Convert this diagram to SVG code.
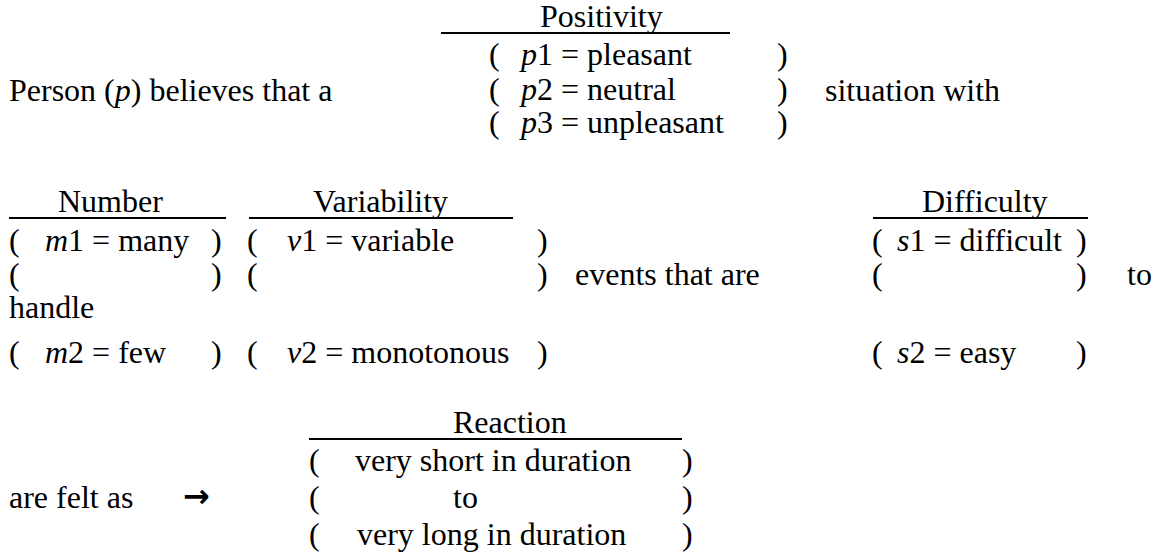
<svg xmlns="http://www.w3.org/2000/svg" width="1156" height="554" viewBox="0 0 1156 554">
<style>
text{font-family:"Liberation Serif","Times New Roman",serif;font-size:32px;fill:#000}
.i{font-style:italic}
.rule{stroke:#000;stroke-width:2}
.arr{font-family:"DejaVu Sans",sans-serif;font-weight:bold}
</style>
<rect width="1156" height="554" fill="#fff"/>
<g id="intro">
<text x="9" y="101">Person (<tspan class="i">p</tspan>) believes that a</text>
</g>
<g id="positivity">
<text x="540" y="27">Positivity</text>
<line class="rule" x1="441" y1="33" x2="730" y2="33"/>
<text x="489" y="65">(</text><text x="521" y="65"><tspan class="i">p</tspan>1 = pleasant</text><text x="777" y="65">)</text>
<text x="489" y="100">(</text><text x="521" y="100"><tspan class="i">p</tspan>2 = neutral</text><text x="777" y="100">)</text>
<text x="489" y="133">(</text><text x="521" y="133"><tspan class="i">p</tspan>3 = unpleasant</text><text x="777" y="133">)</text>
</g>
<g id="situation">
<text x="825" y="101">situation with</text>
</g>
<g id="number">
<text x="58" y="212">Number</text>
<line class="rule" x1="9" y1="218" x2="226" y2="218"/>
<text x="9" y="251">(</text><text x="45" y="251"><tspan class="i">m</tspan>1 = many</text><text x="211" y="251">)</text>
<text x="9" y="285">(</text><text x="211" y="285">)</text>
<text x="9" y="363">(</text><text x="45" y="363"><tspan class="i">m</tspan>2 = few</text><text x="211" y="363">)</text>
</g>
<g id="handle">
<text x="9" y="318">handle</text>
</g>
<g id="variability">
<text x="313" y="212">Variability</text>
<line class="rule" x1="249" y1="218" x2="513" y2="218"/>
<text x="247" y="251">(</text><text x="287" y="251"><tspan class="i">v</tspan>1 = variable</text><text x="537" y="251">)</text>
<text x="247" y="285">(</text><text x="537" y="285">)</text>
<text x="247" y="363">(</text><text x="287" y="363"><tspan class="i">v</tspan>2 = monotonous</text><text x="537" y="363">)</text>
</g>
<g id="events">
<text x="575" y="285">events that are</text>
</g>
<g id="difficulty">
<text x="922" y="212">Difficulty</text>
<line class="rule" x1="873" y1="218" x2="1088" y2="218"/>
<text x="872" y="251">(</text><text x="897" y="251"><tspan class="i">s</tspan>1 = difficult</text><text x="1076" y="251">)</text>
<text x="872" y="285">(</text><text x="1076" y="285">)</text>
<text x="872" y="363">(</text><text x="897" y="363"><tspan class="i">s</tspan>2 = easy</text><text x="1076" y="363">)</text>
</g>
<g id="to">
<text x="1127" y="285">to</text>
</g>
<g id="felt">
<text x="9" y="508">are felt as</text>
</g>
<g id="connectors">
<text class="arr" x="183" y="507">→</text>
</g>
<g id="reaction">
<text x="453" y="433">Reaction</text>
<line class="rule" x1="309" y1="439" x2="682" y2="439"/>
<text x="309" y="471">(</text><text x="355" y="471">very short in duration</text><text x="682" y="471">)</text>
<text x="309" y="508">(</text><text x="453" y="508">to</text><text x="682" y="508">)</text>
<text x="309" y="545">(</text><text x="357" y="545">very long in duration</text><text x="682" y="545">)</text>
</g>
</svg>
